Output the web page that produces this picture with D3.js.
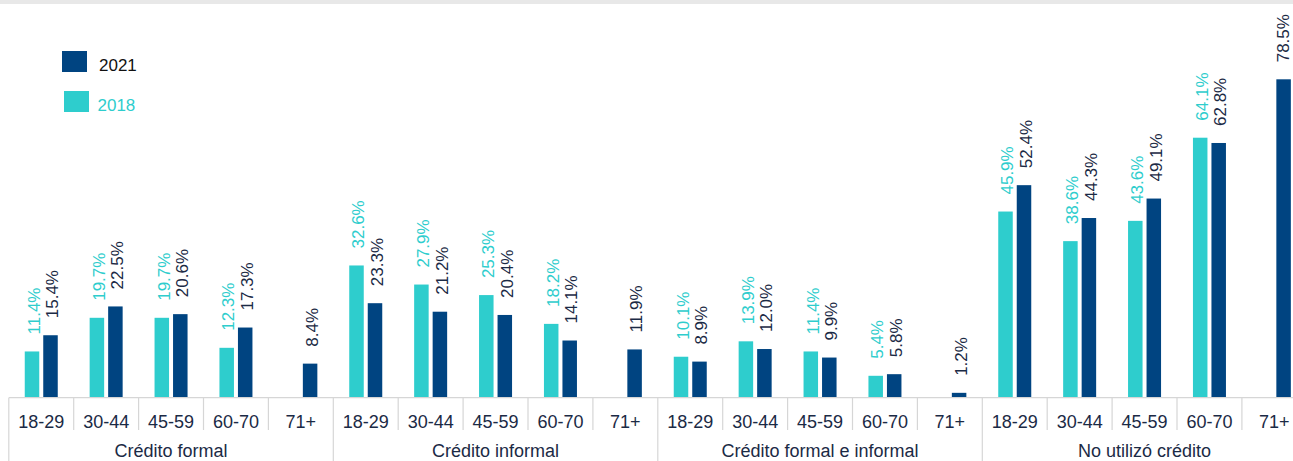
<!DOCTYPE html>
<html>
<head>
<meta charset="utf-8">
<script src="https://cdn.jsdelivr.net/npm/d3@7/dist/d3.min.js"></script>
<style>
  html, body { margin: 0; padding: 0; background: #ffffff; }
  svg { display: block; font-family: "Liberation Sans", Arial, sans-serif; }
</style>
</head>
<body>
<div id="chart"></div>
<script>
// ---- data ----
const groups = ["Crédito formal", "Crédito informal", "Crédito formal e informal", "No utilizó crédito"];
const ages = ["18-29", "30-44", "45-59", "60-70", "71+"];
const seriesNames = ["2018", "2021"];
const values2018 = [
  [11.4, 19.7, 19.7, 12.3, null],
  [32.6, 27.9, 25.3, 18.2, null],
  [10.1, 13.9, 11.4, 5.4, null],
  [45.9, 38.6, 43.6, 64.1, null]
];
const values2021 = [
  [15.4, 22.5, 20.6, 17.3, 8.4],
  [23.3, 21.2, 20.4, 14.1, 11.9],
  [8.9, 12.0, 9.9, 5.8, 1.2],
  [52.4, 44.3, 49.1, 62.8, 78.5]
];

// ---- layout ----
const W = 1293, H = 461;
const baseline = 397.7;
const left = 8.8, cellW = 64.9;
const colors = { "2018": "#2ECDCD", "2021": "#004481" };
const labelColors = { "2018": "#2ECDCD", "2021": "#1B2A45" };
const gridColor = "#D6D6D6";

const cells = [];
groups.forEach((g, gi) => ages.forEach((a, ai) => cells.push({ key: gi + "|" + ai, g, gi, a, ai })));

const x0 = d3.scaleBand().domain(cells.map(d => d.key)).range([left, left + cellW * cells.length]).padding(0);
const pairW = 33;
const x1 = d3.scaleBand().domain(seriesNames).range([0, pairW]).paddingInner(0.216).paddingOuter(0);
const y = d3.scaleLinear().domain([0, 100]).range([baseline, baseline - 405.6]);

const svg = d3.select("#chart").append("svg").attr("width", W).attr("height", H);

// top band
svg.append("rect").attr("x", 0).attr("y", 0).attr("width", W).attr("height", 4).attr("fill", "#E8E8E8");

// bars data
const bars = [];
cells.forEach(c => {
  const v18 = values2018[c.gi][c.ai];
  const v21 = values2021[c.gi][c.ai];
  if (v18 != null) bars.push({ c, s: "2018", v: v18 });
  if (v21 != null) bars.push({ c, s: "2021", v: v21 });
});
const barX = d => x0(d.c.key) + x0.bandwidth() / 2 - pairW / 2 + x1(d.s);

svg.append("g").selectAll("rect").data(bars).join("rect")
  .attr("x", barX)
  .attr("y", d => y(d.v))
  .attr("width", x1.bandwidth())
  .attr("height", d => baseline - y(d.v))
  .attr("fill", d => colors[d.s]);

// value labels
svg.append("g").selectAll("text").data(bars).join("text")
  .attr("transform", d => `translate(${Math.min(barX(d) + x1.bandwidth() + 0.5, W - 4)},${y(d.v) - 17}) rotate(-90)`)
  .attr("text-anchor", "start")
  .attr("font-size", 17)
  .attr("fill", d => labelColors[d.s])
  .text(d => d.v.toFixed(1) + "%");

// axis: baseline
svg.append("line")
  .attr("x1", left).attr("x2", W)
  .attr("y1", baseline).attr("y2", baseline)
  .attr("stroke", gridColor).attr("stroke-width", 1.2);

// separators
const seps = cells.map((c, i) => ({ x: x0(c.key), major: c.ai === 0 }));
svg.append("g").selectAll("line").data(seps).join("line")
  .attr("x1", d => d.x).attr("x2", d => d.x)
  .attr("y1", baseline).attr("y2", d => d.major ? H : 430)
  .attr("stroke", gridColor).attr("stroke-width", 1.2);

// age labels
svg.append("g").selectAll("text").data(cells).join("text")
  .attr("x", d => x0(d.key) + x0.bandwidth() / 2)
  .attr("y", 428)
  .attr("text-anchor", "middle")
  .attr("font-size", 18)
  .attr("fill", "#1B2A45")
  .text(d => d.a);

// group labels
svg.append("g").selectAll("text").data(groups).join("text")
  .attr("x", (g, gi) => x0(gi + "|0") + cellW * ages.length / 2)
  .attr("y", 457)
  .attr("text-anchor", "middle")
  .attr("font-size", 18)
  .attr("fill", "#1B2A45")
  .text(d => d);

// legend
const legend = [
  { s: "2021", rx: 62, ry: 51, tx: 99, ty: 71, tc: "#111111" },
  { s: "2018", rx: 64, ry: 91, tx: 97.5, ty: 111, tc: "#2ECDCD" }
];
const lg = svg.append("g");
lg.selectAll("rect").data(legend).join("rect")
  .attr("x", d => d.rx).attr("y", d => d.ry)
  .attr("width", 25).attr("height", 21)
  .attr("fill", d => colors[d.s]);
lg.selectAll("text").data(legend).join("text")
  .attr("x", d => d.tx).attr("y", d => d.ty)
  .attr("font-size", 17)
  .attr("fill", d => d.tc)
  .text(d => d.s);
</script>
</body>
</html>
